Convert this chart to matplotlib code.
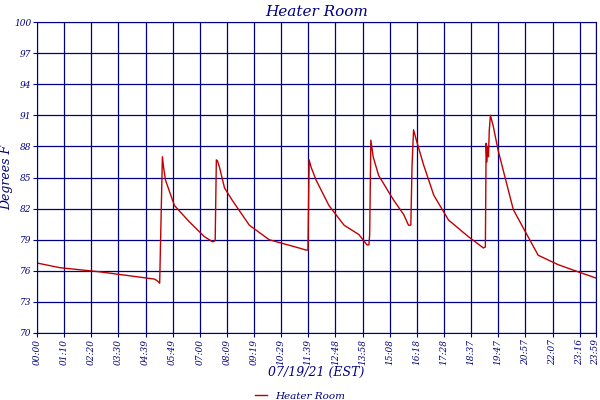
import matplotlib
matplotlib.use("Agg")
import matplotlib.pyplot as plt

minutes = [0,59,162,303,311,316,323,326,331,354,393,431,452,459,462,465,470,483,503,547,598,675,693,698,701,706,719,752,791,829,850,855,857,860,866,880,919,945,957,963,966,970,978,996,1022,1060,1111,1150,1155,1157,1159,1161,1163,1165,1168,1175,1188,1227,1291,1342,1394,1440]
temps   = [76.75,76.3,75.9,75.2,75.0,74.8,87.0,86.0,84.75,82.3,80.7,79.3,78.8,78.9,86.7,86.6,86.0,84.0,82.8,80.4,79.0,78.2,78.0,78.0,86.7,86.0,84.75,82.3,80.4,79.5,78.5,78.5,79.5,88.6,87.0,85.2,82.8,81.4,80.4,80.4,86.0,89.6,88.5,86.2,83.3,80.9,79.3,78.2,78.3,88.3,86.5,88.0,87.0,89.5,91.0,90.0,87.6,81.9,77.5,76.6,75.9,75.3]
xtick_labels = ["00:00","01:10","02:20","03:30","04:39","05:49","07:00","08:09","09:19","10:29","11:39",
                "12:48","13:58","15:08","16:18","17:28","18:37","19:47","20:57","22:07","23:16"]
yticks = [70,73,76,79,82,85,88,91,94,97,100]

navy = "#000080"
fig = plt.figure(figsize=(6,4), dpi=100)
ax = fig.add_axes([37/600, 1-333/400, 559/600, 311/400])
ax.plot(minutes, temps, color="#c00000", lw=1, label="Heater Room")
ax.set_xlim(0, 1440)
ax.set_ylim(70, 100)
ft = dict(family="DejaVu Serif", style="italic", color=navy)
xt = [i*1440/20.6 for i in range(21)] + [1440]
ax.set_xticks(xt)
ax.set_xticklabels(xtick_labels + ["23:59"], rotation=90, fontsize=6.5, **ft)
ax.set_yticks(yticks)
ax.set_yticklabels([str(v) for v in yticks], fontsize=6.5, **ft)
ax.grid(True, color=navy, lw=0.9)
for s in ax.spines.values():
    s.set_color(navy)
ax.tick_params(colors=navy, length=3, pad=1)
ax.set_title("Heater Room", fontsize=11, pad=4, **ft)
ax.set_ylabel("Degrees F", fontsize=9, labelpad=1, **ft)
ax.set_xlabel("07/19/21 (EST)", fontsize=9, labelpad=1, **ft)
leg = fig.legend(loc="lower center", bbox_to_anchor=(0.5, -0.025), frameon=False,
                 prop=dict(family="DejaVu Serif", style="italic", size=7.5), handlelength=1.2)
for t in leg.get_texts():
    t.set_color(navy)
fig.savefig("out.png", dpi=100)
